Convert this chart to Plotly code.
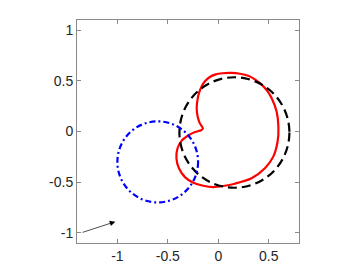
import plotly.graph_objects as go

# red curve (clockwise from the notch)
red_x = [-0.152, -0.185, -0.205, -0.214, -0.205, -0.191, -0.165, -0.132, -0.080, -0.033,
         0.040, 0.133, 0.215, 0.297, 0.370, 0.430, 0.485, 0.528, 0.578, 0.596,
         0.588, 0.545, 0.462, 0.330, 0.165, 0.050, -0.050, -0.149, -0.248, -0.330,
         -0.390, -0.415, -0.405, -0.362, -0.290, -0.230, -0.170, -0.152]
red_y = [0.030, 0.085, 0.150, 0.232, 0.320, 0.380, 0.445, 0.495, 0.540, 0.561,
         0.575, 0.578, 0.570, 0.550, 0.510, 0.462, 0.400, 0.330, 0.198, 0.050,
         -0.099, -0.248, -0.363, -0.462, -0.515, -0.538, -0.548, -0.535, -0.505, -0.450,
         -0.363, -0.264, -0.170, -0.090, -0.035, -0.005, 0.012, 0.030]

# circles: centre and radius
black_c = (0.16, -0.01)
black_r = 0.545
blue_c = (-0.6, -0.3)
blue_r = 0.4

# arrow from tail to head
arrow_tail = (-1.36, -1.0)
arrow_head = (-1.02, -0.89)

xticks = [-1, -0.5, 0, 0.5]
yticks = [-1, -0.5, 0, 0.5, 1]

fig = go.Figure()

fig.add_trace(go.Scatter(
    x=red_x, y=red_y, mode="lines",
    line=dict(color="#ff0000", width=2.2, shape="spline", smoothing=0.8),
    hoverinfo="skip", showlegend=False,
))

fig.add_shape(type="circle", xref="x", yref="y",
              x0=black_c[0] - black_r, x1=black_c[0] + black_r,
              y0=black_c[1] - black_r, y1=black_c[1] + black_r,
              line=dict(color="black", width=2.2, dash="9px,5px"), layer="above")
fig.add_shape(type="circle", xref="x", yref="y",
              x0=blue_c[0] - blue_r, x1=blue_c[0] + blue_r,
              y0=blue_c[1] - blue_r, y1=blue_c[1] + blue_r,
              line=dict(color="#0000ff", width=2.2, dash="6px,3px,2px,3px"), layer="above")

fig.add_annotation(x=arrow_head[0], y=arrow_head[1], ax=arrow_tail[0], ay=arrow_tail[1],
                   xref="x", yref="y", axref="x", ayref="y",
                   showarrow=True, arrowhead=2, arrowsize=1.6, arrowwidth=0.7,
                   arrowcolor="black", text="")

axis_style = dict(
    showgrid=False, zeroline=False, showline=True, mirror="ticks",
    linecolor="#8a8a8a", linewidth=1, ticks="inside", ticklen=4,
    tickcolor="#8a8a8a", tickfont=dict(family="Liberation Sans, Arial", size=14, color="#262626"),
)

fig.update_xaxes(range=[-1.4, 0.8], tickvals=xticks, ticktext=["-1", "-0.5", "0", "0.5"],
                 **axis_style)
fig.update_yaxes(range=[-1.1, 1.1], tickvals=yticks, ticktext=["-1", "-0.5", "0", "0.5", "1"],
                 **axis_style)

# page body adds an 8px margin, so the plot box is pulled up/left by that much
fig.update_layout(
    width=364, height=273,
    margin=dict(l=69, r=73, t=12, b=38),
    plot_bgcolor="white", paper_bgcolor="white",
)

fig.write_html("out.html")
